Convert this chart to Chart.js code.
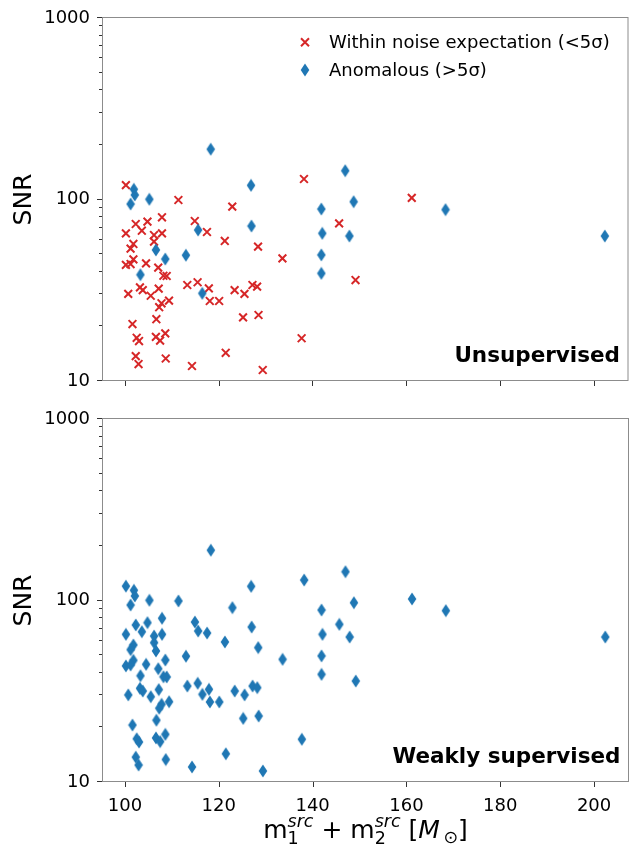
<!DOCTYPE html>
<html lang="en">
<head>
<meta charset="UTF-8">
<title>SNR vs source-frame total mass</title>
<script src="https://cdn.jsdelivr.net/npm/chart.js"></script>
<style>
  body { margin: 0; background: #fff; }
  .wrap { position: relative; width: 636px; height: 845px; }
  #topChart { position: absolute; left: 0; top: 0; }
  #bottomChart { position: absolute; left: 0; top: 400px; }
</style>
</head>
<body>
<div class="wrap">
  <canvas id="topChart" width="636" height="400"></canvas>
  <canvas id="bottomChart" width="636" height="445"></canvas>
</div>
<script>
// events within noise expectation (<5 sigma) in the unsupervised search
const noiseMass = [100.2, 111.4, 107.9, 104.8, 102.3, 103.6, 114.9, 117.5, 100.2, 107.9,
                   106.2, 106.2, 101.8, 101.2, 101.8, 100.2, 101.2, 104.5, 107.1, 108.2,
                   108.9, 113.3, 115.5, 117.9, 118.1, 120.1, 100.7, 103.2, 103.8, 107.2,
                   105.5, 107.8, 107.3, 109.4, 101.6, 106.7, 102.5, 103.0, 106.6, 107.5,
                   108.6, 102.3, 102.9, 108.7, 114.3, 138.2, 122.9, 145.7, 121.3, 128.4,
                   133.6, 149.2, 123.4, 125.5, 127.2, 128.2, 125.2, 128.5, 137.7, 121.5,
                   129.4, 161.2];
const noiseSnr = [120, 99.4, 79.8, 75.5, 73.3, 67.3, 76.1, 66.2, 65.1, 65.1,
                  63.7, 58.6, 56.9, 53.6, 46.8, 43.6, 44.1, 44.5, 42.1, 38.0,
                  37.9, 33.8, 35.0, 32.4, 27.6, 27.6, 30.2, 32.8, 31.7, 32.3,
                  29.5, 26.8, 25.5, 27.7, 20.6, 21.9, 17.3, 16.6, 17.5, 16.7,
                  18.3, 13.7, 12.4, 13.3, 12.1, 129.7, 91.3, 73.9, 59.1, 55.0,
                  47.4, 36.0, 31.7, 30.2, 33.8, 33.1, 22.4, 23.1, 17.2, 14.3,
                  11.5, 102.0];
// anomalous events (>5 sigma) in the unsupervised search
const anomMass = [101.9, 102.1, 101.2, 105.2, 115.6, 106.6, 108.6, 113.0, 103.3, 116.5,
                  118.3, 126.9, 147.0, 148.8, 141.9, 127.0, 142.1, 147.9, 141.9, 141.9,
                  168.4, 202.4];
const anomSnr = [113.8, 105.9, 94.4, 100.3, 67.9, 52.7, 47.0, 49.3, 38.5, 30.4,
                 189.3, 119.7, 144.1, 97.2, 88.6, 71.4, 65.1, 62.9, 49.5, 39.2,
                 87.9, 62.9];

const xTicks = [100, 120, 140, 160, 180, 200];
const yMajor = [10, 100, 1000];
const yMinor = [20, 30, 40, 50, 60, 70, 80, 90, 200, 300, 400, 500, 600, 700, 800, 900];
const xMin = 95.1, xMax = 207.45;

const FONT = '"DejaVu Sans", sans-serif';
const RED = '#d62728', BLUE = '#1f77b4';

function toPoints(xs, ys) {
  return xs.map((x, i) => ({ x: x, y: ys[i] }));
}

// thin diamond marker like matplotlib's 'd'
function diamond(color) {
  const c = document.createElement('canvas');
  c.width = 10; c.height = 14;
  const g = c.getContext('2d');
  g.fillStyle = color;
  g.beginPath();
  g.moveTo(5, 0.5); g.lineTo(9.3, 7); g.lineTo(5, 13.5); g.lineTo(0.7, 7);
  g.closePath();
  g.fill();
  return c;
}
const diamondImg = diamond(BLUE);

function drawXTitle(ctx, cx, base) {
  const big = '25px ' + FONT, bigIt = 'italic 25px ' + FONT;
  const small = '17.5px ' + FONT, smallIt = 'italic 17.5px ' + FONT;
  const parts = [
    { t: 'm', f: big },
    { stack: [{ t: 'src', f: smallIt, dy: -11 }, { t: '1', f: small, dy: 6 }] },
    { t: ' + m', f: big },
    { stack: [{ t: 'src', f: smallIt, dy: -11 }, { t: '2', f: small, dy: 6 }] },
    { t: ' [', f: big },
    { t: 'M', f: bigIt },
    { t: '\u2009\u2299', f: small, dy: 5 },
    { t: ']', f: big }
  ];
  const widthOf = p => {
    if (p.stack) {
      return Math.max(...p.stack.map(s => { ctx.font = s.f; return ctx.measureText(s.t).width; }));
    }
    ctx.font = p.f;
    return ctx.measureText(p.t).width;
  };
  const total = parts.reduce((s, p) => s + widthOf(p), 0);
  let x = cx - total / 2;
  ctx.textAlign = 'left';
  ctx.textBaseline = 'alphabetic';
  ctx.fillStyle = '#000';
  parts.forEach(p => {
    const w = widthOf(p);
    (p.stack || [p]).forEach(s => {
      ctx.font = s.f;
      ctx.fillText(s.t, x, base + (s.dy || 0));
    });
    x += w;
  });
}

const panelDecor = {
  id: 'panelDecor',
  afterDatasetsDraw(chart, args, opts) {
    const { ctx, chartArea: a, scales } = chart;
    ctx.save();
    // tick marks
    ctx.strokeStyle = '#333';
    ctx.lineWidth = 1;
    ctx.beginPath();
    xTicks.forEach(v => {
      const px = Math.round(scales.x.getPixelForValue(v)) + 0.5;
      ctx.moveTo(px, a.bottom); ctx.lineTo(px, a.bottom + 5);
    });
    yMajor.forEach(v => {
      const py = Math.round(scales.y.getPixelForValue(v)) - 0.5;
      ctx.moveTo(a.left - 5, py); ctx.lineTo(a.left, py);
    });
    yMinor.forEach(v => {
      const py = Math.round(scales.y.getPixelForValue(v)) - 0.5;
      ctx.moveTo(a.left - 3, py); ctx.lineTo(a.left, py);
    });
    ctx.stroke();
    // frame
    ctx.strokeStyle = '#8c8c8c';
    ctx.strokeRect(a.left + 0.5, a.top - 0.5, a.right - a.left - 1, a.bottom - a.top);

    // panel label
    ctx.fillStyle = '#000';
    ctx.font = 'bold 21.5px ' + FONT;
    ctx.textAlign = 'right';
    ctx.textBaseline = 'alphabetic';
    ctx.fillText(opts.label, a.right - 8.5, a.bottom - 19);

    if (opts.legend) {
      // cross marker
      ctx.strokeStyle = RED;
      ctx.lineWidth = 2;
      ctx.beginPath();
      ctx.moveTo(301, 38.3); ctx.lineTo(309, 46.3);
      ctx.moveTo(309, 38.3); ctx.lineTo(301, 46.3);
      ctx.stroke();
      ctx.drawImage(diamondImg, 300, 63);
      ctx.font = '18px ' + FONT;
      ctx.textAlign = 'left';
      ctx.fillText('Within noise expectation (<5\u03c3)', 329, 48);
      ctx.fillText('Anomalous (>5\u03c3)', 329, 75.5);
    }
    if (opts.xtitle) {
      drawXTitle(ctx, (a.left + a.right) / 2, 438);
    }
    ctx.restore();
  }
};

function makeOptions(isBottom, label) {
  return {
    responsive: false,
    animation: false,
    devicePixelRatio: 1,
    events: [],
    layout: { padding: { top: isBottom ? 19 : 18, right: 6, left: 0, bottom: 0 } },
    plugins: {
      legend: { display: false },
      tooltip: { enabled: false },
      panelDecor: { label: label, legend: !isBottom, xtitle: isBottom }
    },
    scales: {
      x: {
        type: 'linear',
        min: xMin,
        max: xMax,
        afterBuildTicks: s => { s.ticks = xTicks.map(v => ({ value: v })); },
        afterFit: s => {
          s.height = isBottom ? 63 : 19;
          s.paddingLeft = 0; s.paddingRight = 0; s.paddingTop = 0; s.paddingBottom = 0;
        },
        ticks: {
          display: isBottom,
          autoSkip: false,
          maxRotation: 0,
          padding: 14,
          color: '#000',
          font: { family: FONT, size: 18 }
        },
        grid: { display: false, drawTicks: false },
        border: { display: false }
      },
      y: {
        type: 'logarithmic',
        min: 10,
        max: 1000,
        afterBuildTicks: s => {
          s.ticks = yMajor.concat(yMinor).sort((p, q) => p - q).map(v => ({ value: v }));
        },
        afterFit: s => {
          s.width = 102;
          s.paddingLeft = 0; s.paddingRight = 0; s.paddingTop = 0; s.paddingBottom = 0;
        },
        ticks: {
          autoSkip: false,
          padding: 12,
          color: '#000',
          font: { family: FONT, size: 18 },
          callback: v => yMajor.includes(v) ? String(v) : ''
        },
        grid: { display: false, drawTicks: false },
        border: { display: false },
        title: {
          display: true,
          text: 'SNR',
          color: '#000',
          font: { family: FONT, size: 25 },
          padding: { top: 9, bottom: 0 }
        }
      }
    }
  };
}

new Chart(document.getElementById('topChart'), {
  type: 'scatter',
  data: {
    datasets: [
      {
        label: 'Within noise expectation (<5\u03c3)',
        data: toPoints(noiseMass, noiseSnr),
        pointStyle: 'crossRot',
        pointRadius: 5.5,
        borderWidth: 2,
        borderColor: RED,
        backgroundColor: RED,
        order: 1
      },
      {
        label: 'Anomalous (>5\u03c3)',
        data: toPoints(anomMass, anomSnr),
        pointStyle: diamondImg,
        pointRadius: 6,
        order: 0
      }
    ]
  },
  options: makeOptions(false, 'Unsupervised'),
  plugins: [panelDecor]
});

new Chart(document.getElementById('bottomChart'), {
  type: 'scatter',
  data: {
    datasets: [
      {
        label: 'Anomalous (>5\u03c3)',
        data: toPoints(noiseMass.concat(anomMass), noiseSnr.concat(anomSnr)),
        pointStyle: diamondImg,
        pointRadius: 6
      }
    ]
  },
  options: makeOptions(true, 'Weakly supervised'),
  plugins: [panelDecor]
});
</script>
</body>
</html>
